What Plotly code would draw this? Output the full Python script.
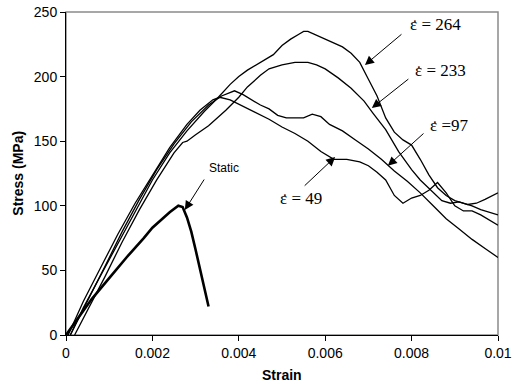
import plotly.graph_objects as go

# ---- data (strain, stress MPa) ----
x264 = [0.0001, 0.0004, 0.0008, 0.0012, 0.0016, 0.002, 0.0024, 0.0028, 0.0032, 0.0035, 0.0038, 0.004, 0.0042,
        0.0044, 0.0046, 0.0048, 0.005, 0.0052, 0.0054, 0.0055, 0.0056, 0.0058, 0.006, 0.0062, 0.0064, 0.0066,
        0.0068, 0.0070, 0.0072, 0.0074, 0.0076, 0.0078, 0.0080, 0.0082, 0.0084, 0.0086, 0.0088, 0.0090, 0.0092,
        0.0094, 0.0096, 0.0098, 0.0100]
y264 = [0, 21, 46, 71, 96, 120, 141, 158, 173, 183, 194, 200, 205,
        209, 213, 217, 224, 229, 233, 235, 235, 232, 229, 226, 223, 218,
        211, 198, 185, 168, 157, 151, 147, 136, 124, 114, 108, 104, 102,
        100, 97, 95, 93]

x233 = [0.0002, 0.0005, 0.0009, 0.0013, 0.0017, 0.0021, 0.0025, 0.0027, 0.0028, 0.0030, 0.0033, 0.0035, 0.0037,
        0.0040, 0.0042, 0.0045, 0.0047, 0.0050, 0.0053, 0.0056, 0.0058, 0.0060, 0.0063, 0.0066, 0.0069, 0.0071,
        0.0074, 0.0077, 0.0080, 0.0082, 0.0085, 0.0087, 0.0089, 0.0091, 0.0093, 0.0095, 0.0097, 0.0100]
y233 = [0, 19, 45, 72, 97, 120, 141, 149, 150, 155, 162, 168, 174,
        184, 192, 201, 206, 209, 211, 211, 209, 206, 199, 191, 181, 172,
        159, 142, 128, 120, 110, 104, 102, 103, 101, 102, 105, 110]

x97 = [0.0001, 0.0005, 0.0009, 0.0013, 0.0017, 0.0021, 0.0025, 0.0029, 0.0033, 0.0036, 0.0039, 0.0041,
       0.0043, 0.0045, 0.0047, 0.0049, 0.0051, 0.0053, 0.0055, 0.0057, 0.0059, 0.0061, 0.0064, 0.0067,
       0.0070, 0.0073, 0.0076, 0.0079, 0.0082, 0.0085, 0.0088, 0.0091, 0.0094, 0.0097, 0.0100]
y97 = [0, 26, 53, 80, 105, 128, 148, 165, 178, 185, 189, 186,
       182, 178, 175, 170, 168, 168, 168, 171, 169, 163, 158, 151,
       144, 136, 127, 119, 110, 100, 90, 82, 74, 67, 60]

x49 = [0.00005, 0.0004, 0.0008, 0.0012, 0.0016, 0.002, 0.0024, 0.0028, 0.0031, 0.0034, 0.00356, 0.0038,
       0.0041, 0.0044, 0.0047, 0.0050, 0.0053, 0.0056, 0.0059, 0.0062, 0.0065, 0.0068, 0.0070, 0.0072,
       0.0074, 0.0076, 0.0078, 0.0080, 0.0082, 0.0084, 0.0086, 0.0088, 0.0090, 0.0092, 0.0094, 0.0096,
       0.0098, 0.0100]
y49 = [0, 26, 52, 78, 102, 124, 145, 163, 174, 182, 184, 182,
       177, 172, 167, 161, 156, 150, 142, 136, 136, 134, 131, 126,
       120, 108, 102, 106, 108, 112, 118, 110, 100, 96, 96, 93, 89, 85]

x_static = [0.0, 0.0003, 0.0006, 0.0010, 0.0014, 0.0018, 0.0020, 0.0022, 0.0024, 0.0026, 0.0027,
            0.0028, 0.0029, 0.0030, 0.0031, 0.0032, 0.0033]
y_static = [0, 14, 28, 44, 60, 75, 83, 89, 95, 100, 99,
            91, 80, 66, 51, 38, 22]

x_ticks = [0, 0.002, 0.004, 0.006, 0.008, 0.01]
x_ticklabels = ["0", "0.002", "0.004", "0.006", "0.008", "0.01"]
y_ticks = [0, 50, 100, 150, 200, 250]

rate_labels = ["ε = 264", "ε = 233", "ε =97", "ε = 49"]
rate_label_x = [0.00792, 0.00803, 0.00838, 0.00491]   # left edge of label
rate_label_y = [240, 205, 162.5, 106]
static_label = "Static"
static_label_x = 0.00366
static_label_y = 129
arrow_tip_x = [0.00692, 0.00708, 0.00745, 0.00623, 0.00275]
arrow_tip_y = [209, 175.7, 131, 137.8, 96.7]
arrow_tail_x = [0.0078, 0.00796, 0.00831, 0.00549, 0.00322]
arrow_tail_y = [233.7, 199, 157, 114.5, 121.5]

fig = go.Figure()
for xs, ys in [(x264, y264), (x233, y233), (x97, y97), (x49, y49)]:
    fig.add_trace(go.Scatter(x=xs, y=ys, mode="lines",
                             line=dict(color="black", width=1.3), showlegend=False))
fig.add_trace(go.Scatter(x=x_static, y=y_static, mode="lines",
                         line=dict(color="black", width=2.6), showlegend=False))

serif = dict(family="Liberation Serif", size=17, color="black")
annotations = []
for i, t in enumerate(rate_labels):
    annotations.append(dict(x=rate_label_x[i], y=rate_label_y[i], xref="x", yref="y",
                            text=t, showarrow=False, xanchor="left", font=serif))
    # dot over epsilon (strain rate)
    annotations.append(dict(x=rate_label_x[i], y=rate_label_y[i], xref="x", yref="y",
                            text="˙", showarrow=False, xanchor="left", xshift=1.5, yshift=-1,
                            font=dict(family="Liberation Serif", size=17, color="black")))
annotations.append(dict(x=static_label_x, y=static_label_y, xref="x", yref="y",
                        text=static_label, showarrow=False,
                        font=dict(family="Liberation Sans", size=12, color="black")))
for i in range(len(arrow_tip_x)):
    annotations.append(dict(
        x=arrow_tip_x[i], y=arrow_tip_y[i], xref="x", yref="y",
        ax=arrow_tail_x[i], ay=arrow_tail_y[i], axref="x", ayref="y",
        text="", showarrow=True, arrowhead=2, arrowsize=1.8, arrowwidth=1,
        arrowcolor="black", standoff=0, startstandoff=0))
# axis titles
annotations.append(dict(x=0.5, y=-0.124, xref="paper", yref="paper", text="<b>Strain</b>",
                        xanchor="center", yanchor="middle", showarrow=False,
                        font=dict(family="Liberation Sans", size=14, color="black")))
annotations.append(dict(x=-0.113, y=0.5, xref="paper", yref="paper", text="<b>Stress (MPa)</b>",
                        xanchor="center", yanchor="middle", textangle=-90, showarrow=False,
                        font=dict(family="Liberation Sans", size=14, color="black")))

fig.update_layout(
    width=515, height=383,
    margin=dict(l=66, r=17, t=12, b=48),
    paper_bgcolor="white", plot_bgcolor="white",
    font=dict(family="Liberation Sans", size=14, color="black"),
    annotations=annotations,
    shapes=[dict(type="rect", xref="paper", yref="paper", x0=0, y0=0, x1=1, y1=1,
                 line=dict(color="#8a8a8a", width=1.5), layer="below")],
    xaxis=dict(range=[0, 0.01], tickvals=x_ticks, ticktext=x_ticklabels, automargin=False,
               ticklabeloverflow="allow",
               showgrid=False, zeroline=False, showline=True, linecolor="black", linewidth=1,
               ticks="outside", ticklen=5, tickcolor="black"),
    yaxis=dict(range=[0, 250], tickvals=y_ticks, automargin=False,
               ticklabeloverflow="allow",
               showgrid=False, zeroline=False, showline=True, linecolor="black", linewidth=1,
               ticks="outside", ticklen=5, tickcolor="black"),
)

# remove the default page margin so the figure fills the window exactly
fig.write_html("out.html",
               config={"displayModeBar": False},
               post_script="document.body.style.margin='0';document.body.style.overflow='hidden';")
